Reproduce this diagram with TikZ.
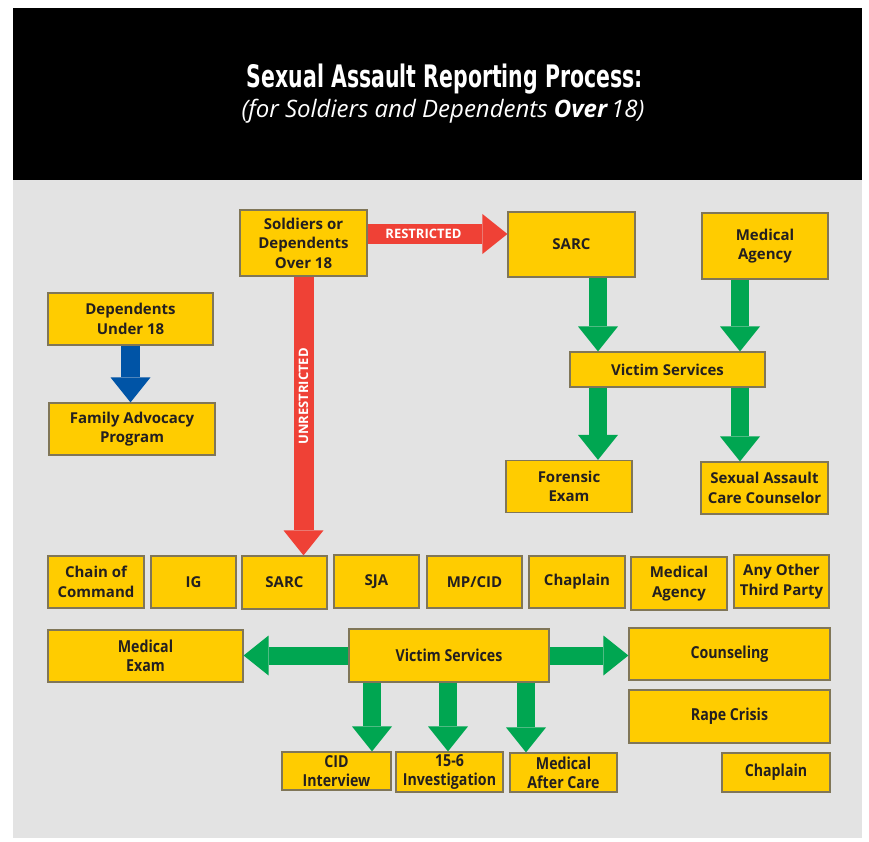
\documentclass[tikz,border=0pt]{standalone}
\usepackage{fontspec}
\setmainfont{Open Sans}
\newfontfamily\titlefam{DejaVu Sans}[FakeStretch=0.66]
\newfontfamily\condfam{Open Sans}[FakeStretch=0.86]
\usepackage{tikz}
\usetikzlibrary{arrows.meta}
\definecolor{boxfill}{RGB}{255,204,0}
\definecolor{boxline}{RGB}{128,118,88}
\definecolor{boxtext}{RGB}{35,31,32}
\definecolor{panelgray}{RGB}{227,227,227}
\definecolor{redarrow}{RGB}{239,65,54}
\definecolor{greenarrow}{RGB}{0,166,81}
\definecolor{bluearrow}{RGB}{0,84,166}
\newcommand\boxtextfont{\bfseries\fontsize{15}{19.5}\selectfont}
\newcommand\lowtextfont{\condfam\bfseries\fontsize{16.5}{19}\selectfont}
\tikzset{
  box/.style={draw=boxline,line width=1.2pt,fill=boxfill,text=boxtext,align=center,inner sep=1pt,font=\boxtextfont},
  lowbox/.style={box,font=\lowtextfont},
  boxsize/.style 2 args={minimum width=#1,minimum height=#2},
  blockhead/.style={-{Triangle[length=25pt 0 0,width=40pt 0 0,line width=0pt 0 0]}},
  redblock/.style={blockhead,draw=redarrow,line width=19pt},
  greenblock/.style={blockhead,draw=greenarrow,line width=18pt},
  blueblock/.style={blockhead,draw=bluearrow,line width=19pt},
  arrowlabel/.style={text=white,inner sep=0pt,font=\bfseries\fontsize{13}{15}\selectfont}
}
\begin{document}
\begin{tikzpicture}[x=1pt,y=-1pt]
  \useasboundingbox (0,0) rectangle (869,842);
  \fill[panelgray] (13,180) rectangle (862,838);
  \fill[black] (13,8) rectangle (862,180);
  \node[text=white,font=\titlefam\bfseries\fontsize{31}{34}\selectfont] (title) at (445,79) {Sexual Assault Reporting Process:};
  \node[text=white,font=\itshape\fontsize{24}{28}\selectfont] (subtitle) at (443,111) {(for Soldiers and Dependents \textbf{Over}\,18)};

  % restricted side
  \node[box,boxsize={127}{66}] (soldiers) at (303.5,243) {Soldiers or\\Dependents\\Over 18};
  \node[box,boxsize={127}{65}] (sarcR) at (571.5,244.5) {SARC};
  \node[box,boxsize={126}{66}] (medR) at (765,246) {Medical\\Agency};
  \node[box,boxsize={195}{35}] (vsR) at (667.5,369.5) {Victim Services};
  \node[box,boxsize={126}{52}] (forensic) at (569,486.5) {Forensic\\Exam};
  \node[box,boxsize={127}{52}] (sacc) at (764.5,488) {Sexual Assault\\Care Counselor};
  \node[box,boxsize={165}{52}] (depU) at (130.5,319) {Dependents\\Under 18};
  \node[box,boxsize={166}{52}] (fap) at (132,429) {Family Advocacy\\Program};

  % unrestricted side
  \node[box,boxsize={96}{52}] (chain) at (96,582) {Chain of\\Command};
  \node[box,boxsize={85}{52}] (ig) at (193.5,582) {IG};
  \node[box,boxsize={85}{53}] (sarcB) at (284.5,582.5) {SARC};
  \node[box,boxsize={85}{53}] (sja) at (376.5,581.5) {SJA};
  \node[box,boxsize={95}{52}] (mpcid) at (474.5,582) {MP/CID};
  \node[box,boxsize={96}{52}] (chapB) at (577,582) {Chaplain};
  \node[box,boxsize={96}{53}] (medB) at (679,583.5) {Medical\\Agency};
  \node[box,boxsize={95}{53}] (other) at (781.5,581.5) {Any Other\\Third Party};

  \node[lowbox,boxsize={195}{52}] (medExam) at (145.5,656) {Medical\\Exam};
  \node[lowbox,boxsize={200}{53}] (vsB) at (449,655.5) {Victim Services};
  \node[lowbox,boxsize={201}{52}] (counsel) at (729.5,654) {Counseling};
  \node[lowbox,boxsize={201}{53}] (rape) at (729.5,716.5) {Rape Crisis};
  \node[lowbox,boxsize={108}{39}] (chapC) at (776,772.5) {Chaplain};
  \node[lowbox,boxsize={109}{38}] (cid) at (336.5,771) {CID\\Interview};
  \node[lowbox,boxsize={107}{40}] (inv) at (449.5,772) {15-6\\Investigation};
  \node[lowbox,boxsize={107}{39}] (mac) at (563.5,772.5) {Medical\\After Care};

  % arrows
  \draw[redblock] ([yshift=9pt]soldiers.east) -- ([yshift=9pt]soldiers.east -| sarcR.west)
    node[pos=0.4,arrowlabel] (restricted) {RESTRICTED};
  \draw[redblock,line width=20pt] (soldiers.south) -- (soldiers.south |- sarcB.north)
    node[pos=0.43,arrowlabel,rotate=90] (unrestricted) {UNRESTRICTED};
  \draw[blueblock] (depU.south) -- (depU.south |- fap.north);
  \draw[greenblock] ([xshift=-69.5pt]vsR.north |- sarcR.south) -- ([xshift=-69.5pt]vsR.north);
  \draw[greenblock] ([xshift=72.5pt]vsR.north |- medR.south) -- ([xshift=72.5pt]vsR.north);
  \draw[greenblock] ([xshift=-69.5pt]vsR.south) -- ([xshift=-69.5pt]vsR.south |- forensic.north);
  \draw[greenblock] ([xshift=72.5pt]vsR.south) -- ([xshift=72.5pt]vsR.south |- sacc.north);
  \draw[greenblock] (vsB.west) -- (vsB.west -| medExam.east);
  \draw[greenblock] (vsB.east) -- (vsB.east -| counsel.west);
  \foreach \dx/\target in {-77/cid,-1/inv,77/mac}
    \draw[greenblock] ([xshift=\dx pt]vsB.south) -- ([xshift=\dx pt]vsB.south |- \target.north);
\end{tikzpicture}
\end{document}
